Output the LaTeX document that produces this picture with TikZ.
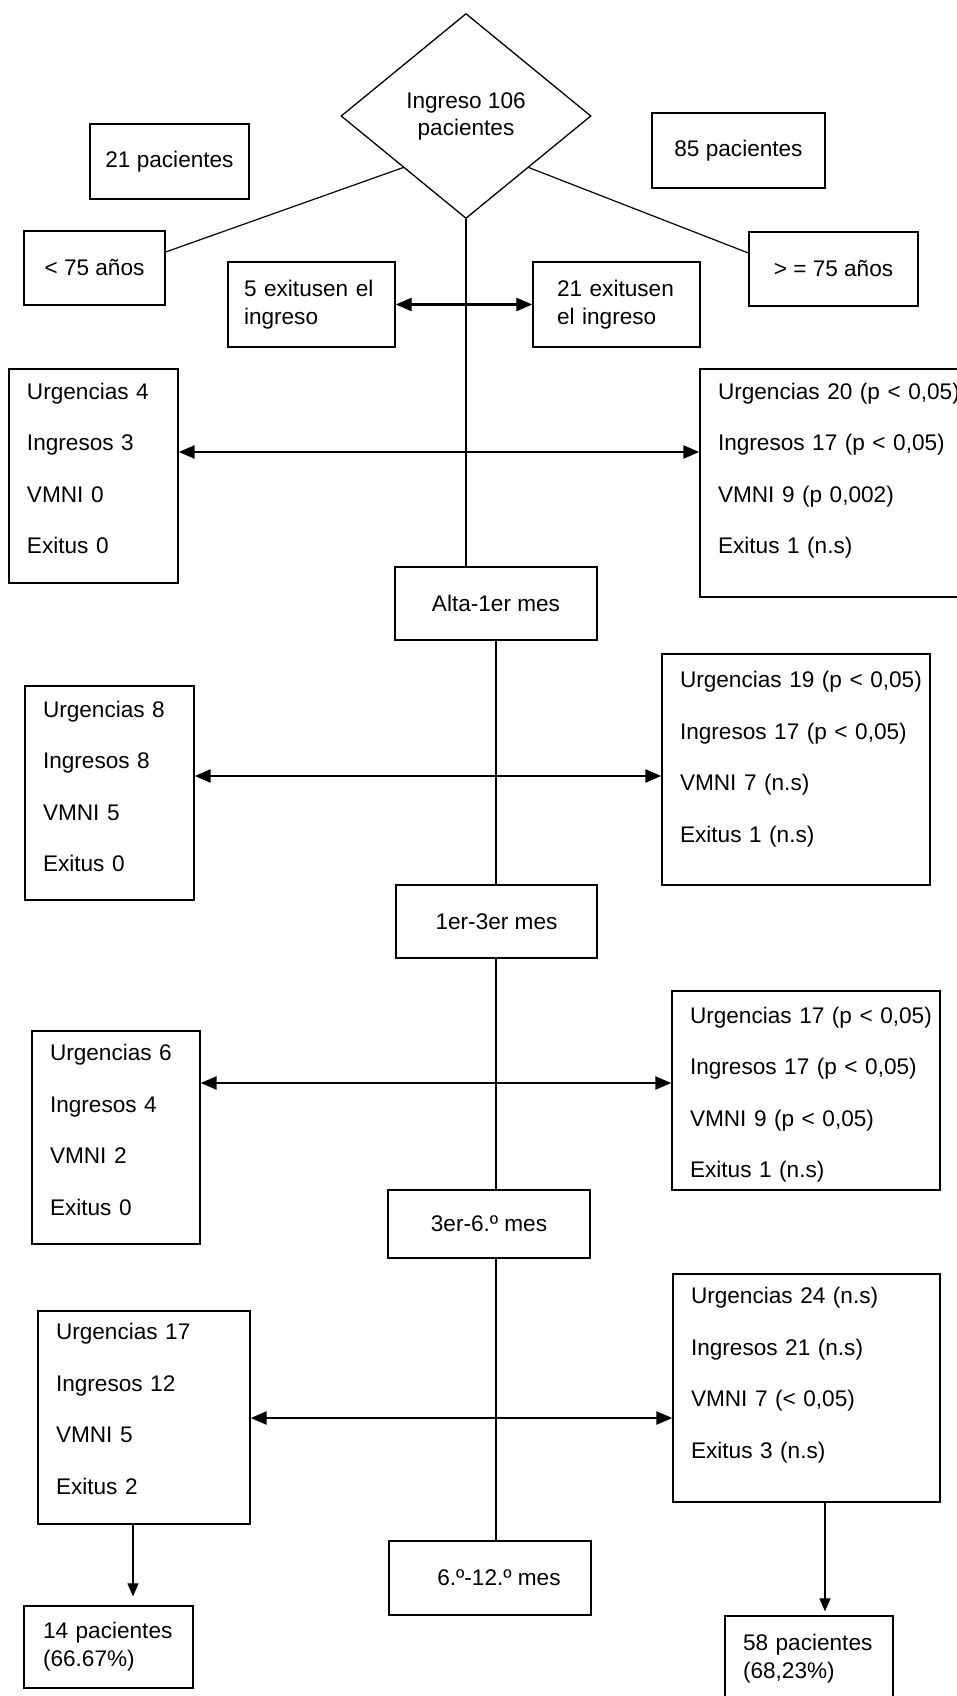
\documentclass[tikz,border=0pt]{standalone}
\usepackage{fontspec}
\setmainfont{Liberation Sans}
\usetikzlibrary{shapes.geometric, arrows.meta}

\begin{document}
\begin{tikzpicture}[x=1pt, y=-1pt,
    box/.style={draw, line width=1.3pt, inner sep=0pt, align=center, font=\fontsize{22.6}{28}\selectfont},
    listbox/.style={draw, line width=1.3pt, inner xsep=18pt, inner ysep=0pt, align=left, font=\fontsize{22.6}{51.5}\selectfont},
    twobox/.style={listbox, font=\fontsize{22.6}{28}\selectfont},
    link/.style={line width=1.2pt},
    both/.style={{Triangle[length=16pt,width=13pt]}-{Triangle[length=16pt,width=13pt]}, line width=2.4pt},
    down/.style={-{Triangle[length=13pt,width=11pt]}, line width=1.2pt}]

    \fill[white] (0,0) rectangle (957,1696);
    \useasboundingbox (0,0) rectangle (957,1696);
    \clip (0,0) rectangle (957,1696);

    % top
    \node[draw, diamond, line width=1.3pt, minimum width=250pt, minimum height=205pt, inner sep=0pt,
          align=center, font=\fontsize{22.6}{27}\selectfont] (ingreso) at (466,116) {Ingreso 106\\pacientes};
    \node[box, minimum width=159pt, minimum height=75pt] (p21) at (169.5,161.5) {21 pacientes};
    \node[box, minimum width=173pt, minimum height=75pt] (p85) at (738.5,150.5) {85 pacientes};
    \node[box, minimum width=141pt, minimum height=74pt] (menor) at (94.5,268) {< 75 años};
    \node[box, minimum width=169pt, minimum height=74pt] (mayor) at (833.5,269) {> = 75 años};
    \node[twobox, inner xsep=16pt, text width=135pt, minimum height=85pt] (exL) at (311.5,304.5) {5 exitusen el\\ingreso};
    \node[twobox, inner xsep=24pt, text width=119pt, minimum height=85pt] (exR) at (616.5,304.5) {21 exitusen\\el ingreso};

    % periods
    \node[box, minimum width=202pt, minimum height=73pt] (alta) at (496,603.5) {Alta-1er mes};
    \node[box, minimum width=201pt, minimum height=73pt] (mes13) at (496.5,921.5) {1er-3er mes};
    \node[box, minimum width=202pt, minimum height=68pt] (mes36) at (489,1224) {3er-6.º mes};
    \node[box, minimum width=202pt, minimum height=74pt] (mes612) at (490,1578) {\hspace*{18pt}6.º-12.º mes};

    % results
    \node[listbox, text width=133pt, minimum height=214pt, text depth=170pt] (L1) at (93.5,476)
        {Urgencias 4\\Ingresos 3\\VMNI 0\\Exitus 0};
    \node[listbox, text width=244pt, minimum height=228pt, text depth=184pt] (R1) at (840,483)
        {Urgencias 20 (p < 0,05)\\Ingresos 17 (p < 0,05)\\VMNI 9 (p 0,002)\\Exitus 1 (n.s)};
    \node[listbox, text width=133pt, minimum height=214pt, text depth=168pt] (L2) at (109.5,793)
        {Urgencias 8\\Ingresos 8\\VMNI 5\\Exitus 0};
    \node[listbox, text width=232pt, minimum height=231pt, text depth=180pt] (R2) at (796,769.5)
        {Urgencias~19~(p~<~0,05)\\Ingresos 17 (p < 0,05)\\VMNI 7 (n.s)\\Exitus 1 (n.s)};
    \node[listbox, text width=132pt, minimum height=213pt, text depth=170pt] (L3) at (116,1137.5)
        {Urgencias 6\\Ingresos 4\\VMNI 2\\Exitus 0};
    \node[listbox, text width=232pt, minimum height=199pt, text depth=151pt] (R3) at (806,1090.5)
        {Urgencias~17~(p~<~0,05)\\Ingresos 17 (p < 0,05)\\VMNI 9 (p < 0,05)\\Exitus 1 (n.s)};
    \node[listbox, text width=176pt, minimum height=213pt, text depth=172pt] (L4) at (144,1417.5)
        {Urgencias 17\\Ingresos 12\\VMNI 5\\Exitus 2};
    \node[listbox, text width=231pt, minimum height=228pt, text depth=185pt] (R4) at (806.5,1388)
        {Urgencias 24 (n.s)\\Ingresos 21 (n.s)\\VMNI 7 (< 0,05)\\Exitus 3 (n.s)};

    \node[twobox, inner xsep=19pt, text width=131pt, minimum height=82pt] (p14) at (108.5,1647) {14 pacientes\\(66.67\%)};
    \node[twobox, text width=132pt, minimum height=86pt] (p58) at (809,1659) {58 pacientes\\(68,23\%)};

    % trunk
    \coordinate (c1) at (466,452);
    \coordinate (c2) at (496,776);
    \coordinate (c3) at (496,1083);
    \coordinate (c4) at (497,1418);

    \draw[link] (ingreso.south west) -- ([yshift=16pt]menor.east);
    \draw[link] (ingreso.south east) -- ([yshift=16pt]mayor.west);
    \draw[link] (ingreso.south) -- (ingreso.south |- alta.north);
    \draw[link] (alta.south) -- (alta.south |- mes13.north);
    \draw[link] (alta.south |- mes13.south) -- (alta.south |- mes36.north);
    \draw[link] (alta.south |- mes36.south) -- (alta.south |- mes612.north);

    \draw[both] (exL.east) -- (exR.west);
    \draw[both] (L1.east |- c1) -- (R1.west |- c1);
    \draw[both] (L2.east |- c2) -- (R2.west |- c2);
    \draw[both] (L3.east |- c3) -- (R3.west |- c3);
    \draw[both] (L4.east |- c4) -- (R4.west |- c4);

    \draw[down, shorten >=9pt] ([xshift=-11pt]L4.south) -- ([xshift=-11pt]L4.south |- p14.north);
    \draw[down, shorten >=4pt] ([xshift=18.5pt]R4.south) -- ([xshift=18.5pt]R4.south |- p58.north);
\end{tikzpicture}
\end{document}
